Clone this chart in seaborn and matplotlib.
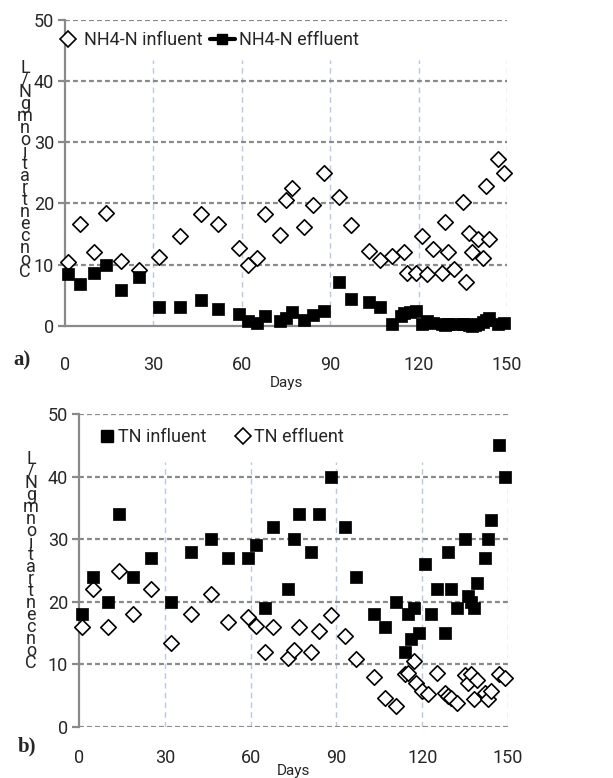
import matplotlib
matplotlib.use("Agg")
import matplotlib.pyplot as plt
import seaborn as sns
from matplotlib.lines import Line2D

# NH4-N data (panel a)
nh4_in_days = [1, 5, 10, 14, 19, 25, 32, 39, 46, 52, 59, 62, 65, 68, 73, 75, 77, 81, 84, 88,
               93, 97, 103, 107, 111, 115, 116, 119, 121, 123, 125, 128, 129, 130, 132, 135,
               136, 137, 138, 140, 142, 143, 144, 147, 149]
nh4_in = [10.5, 16.6, 12.1, 18.5, 10.6, 9.1, 11.2, 14.6, 18.3, 16.6, 12.7, 10.0, 11.0, 18.3,
          14.8, 20.6, 22.5, 16.2, 19.8, 24.9, 21.0, 16.4, 12.2, 10.7, 11.4, 12.0, 8.7, 8.7,
          14.6, 8.5, 12.5, 8.7, 16.9, 12.1, 9.2, 20.3, 7.2, 15.1, 12.1, 14.1, 11.0, 22.8,
          14.1, 27.2, 24.9]
nh4_eff_days = [1, 5, 10, 14, 19, 25, 32, 39, 46, 52, 59, 62, 65, 68, 73, 75, 77, 81, 84, 88,
                93, 97, 103, 107, 111, 114, 115, 117, 119, 121, 123, 125, 128, 129, 130, 132,
                135, 136, 137, 138, 139, 140, 142, 143, 144, 147, 149]
nh4_eff = [8.4, 6.9, 8.7, 9.9, 5.8, 7.9, 3.0, 3.1, 4.2, 2.8, 1.9, 0.8, 0.4, 1.6, 0.7, 1.2,
           2.3, 0.9, 1.8, 2.4, 7.2, 4.4, 3.9, 3.0, 0.3, 1.6, 2.0, 2.2, 2.4, 0.3, 0.8, 0.4,
           0.2, 0.1, 0.2, 0.3, 0.3, 0.2, 0.1, 0.0, 0.1, 0.3, 0.6, 1.0, 1.3, 0.2, 0.5]

# TN data (panel b)
tn_in_days = [1, 5, 10, 14, 19, 25, 32, 39, 46, 52, 59, 62, 65, 68, 73, 75, 77, 81, 84, 88,
              93, 97, 103, 107, 111, 114, 115, 116, 117, 119, 121, 123, 125, 128, 129, 130,
              132, 135, 136, 137, 138, 139, 142, 143, 144, 147, 149]
tn_in = [18, 24, 20, 34, 24, 27, 20, 28, 30, 27, 27, 29, 19, 32, 22, 30, 34, 28, 34, 40,
         32, 24, 18, 16, 20, 12, 18, 14, 19, 15, 26, 18, 22, 15, 28, 22, 19, 30, 21, 20,
         19, 23, 27, 30, 33, 45, 40]
tn_eff_days = [1, 5, 10, 14, 19, 25, 32, 39, 46, 52, 59, 62, 65, 68, 73, 75, 77, 81, 84, 88,
               93, 97, 103, 107, 111, 114, 115, 117, 118, 120, 122, 125, 128, 129, 130, 132,
               135, 136, 137, 138, 139, 142, 143, 144, 147, 149]
tn_eff = [16, 22, 16, 25, 18, 22, 13.4, 18, 21.3, 16.8, 17.5, 16.2, 12, 16, 11, 12.3, 16,
          12, 15.3, 17.9, 14.6, 10.8, 8, 4.6, 3.3, 8.4, 8.7, 10.5, 7, 5.7, 5.2, 8.6, 5.4,
          5.0, 4.6, 3.8, 8.3, 7, 8.5, 4.4, 7.5, 5.4, 4.4, 5.8, 8.5, 7.8]

x_ticks = [0, 30, 60, 90, 120, 150]
y_ticks = [0, 10, 20, 30, 40, 50]
ylabel_text = "Concentration mgN/L"

sns.set_theme(style="white")
plt.rcParams['font.family'] = ['Roboto', 'DejaVu Sans']

W, H = 613, 778
fig = plt.figure(figsize=(W / 100, H / 100), dpi=100)
ax1 = fig.add_axes([65 / W, 1 - 325.7 / H, 442 / W, 305.7 / H])
ax2 = fig.add_axes([79 / W, 1 - 727 / H, 429 / W, 313 / H])

grid_gray = '#8a8a8a'
grid_blue = '#b7c8e6'
dia = dict(marker='D', s=62, color='white', edgecolor='black', linewidth=1.2, clip_on=False, zorder=4)
sq = dict(marker='s', s=80, color='black', edgecolor='black', linewidth=0.5, clip_on=False, zorder=5)

# panel a
sns.scatterplot(x=nh4_in_days, y=nh4_in, ax=ax1, **dia)
sns.scatterplot(x=nh4_eff_days, y=nh4_eff, ax=ax1, **sq)

# panel b
sns.scatterplot(x=tn_in_days, y=tn_in, ax=ax2, **sq)
sns.scatterplot(x=tn_eff_days, y=tn_eff, ax=ax2, **dia)

for ax, ytop, xpad, hline0 in [(ax1, 0.87, 22, False), (ax2, 0.846, 16, True)]:
    ax.set_xlim(0, 150)
    ax.set_ylim(0, 50)
    ax.set_xticks(x_ticks)
    ax.set_yticks(y_ticks)
    for s in ['top', 'right', 'bottom']:
        ax.spines[s].set_visible(False)
    ax.spines['left'].set_color(grid_gray)
    ax.spines['left'].set_linewidth(1.6)
    for v in y_ticks[1:] if not hline0 else y_ticks:
        ax.axhline(v, color=grid_gray, lw=1.6, ls=(0, (2.2, 1.4)), zorder=1)
    for v in x_ticks[1:]:
        ax.axvline(v, ymax=ytop, color=grid_blue, lw=1.0, ls=(0, (4, 3)), zorder=0,
                   snap=True)
    ax.tick_params(axis='y', length=5, width=1.6, color=grid_gray, labelsize=13, pad=3, left=True)
    ax.tick_params(axis='x', length=0, labelsize=13, pad=xpad)
    ax.set_ylabel("")

ax1.set_xlabel("Days", fontsize=11, labelpad=1)
ax2.set_xlabel("Days", fontsize=11, labelpad=-2)

ax1.spines['bottom'].set_visible(True)
ax1.spines['bottom'].set_color(grid_gray)
ax1.spines['bottom'].set_linewidth(1.6)

# legends
h_dia = Line2D([], [], marker='D', ms=7.8, mfc='white', mec='black', mew=1.2, ls='none')
h_sq = Line2D([], [], marker='s', ms=8.5, mfc='black', mec='black', ls='none')
h_line = Line2D([], [], marker='s', ms=7, color='black', lw=3)
fig.legend([h_dia, h_line], ["NH4-N influent", "NH4-N effluent"], ncol=2,
           loc='center left', bbox_to_anchor=(55 / W, 1 - 40 / H), frameon=False,
           fontsize=13, handlelength=1.4, handletextpad=0.2, columnspacing=0.4,
           borderpad=0, borderaxespad=0)
fig.legend([h_sq, h_dia], ["TN influent", "TN effluent"], ncol=2,
           loc='center left', bbox_to_anchor=(100 / W, 1 - 437 / H), frameon=False,
           fontsize=13, handlelength=0.8, handletextpad=0.2, columnspacing=1.6,
           borderpad=0, borderaxespad=0)

# stacked y labels
stacked = "\n".join(reversed(ylabel_text.replace(" ", "")))
fig.text(25 / W, 1 - 170 / H, stacked, ha='center', va='center', fontsize=13, linespacing=0.57)
fig.text(31 / W, 1 - 561 / H, stacked, ha='center', va='center', fontsize=13, linespacing=0.57)

fig.text(22 / W, 1 - 360 / H, "a)", ha='center', va='center', fontsize=15, fontweight='bold',
         family=['Liberation Serif', 'DejaVu Serif'])
fig.text(27 / W, 1 - 746 / H, "b)", ha='center', va='center', fontsize=15, fontweight='bold',
         family=['Liberation Serif', 'DejaVu Serif'])

fig.savefig("out.png", dpi=100)
